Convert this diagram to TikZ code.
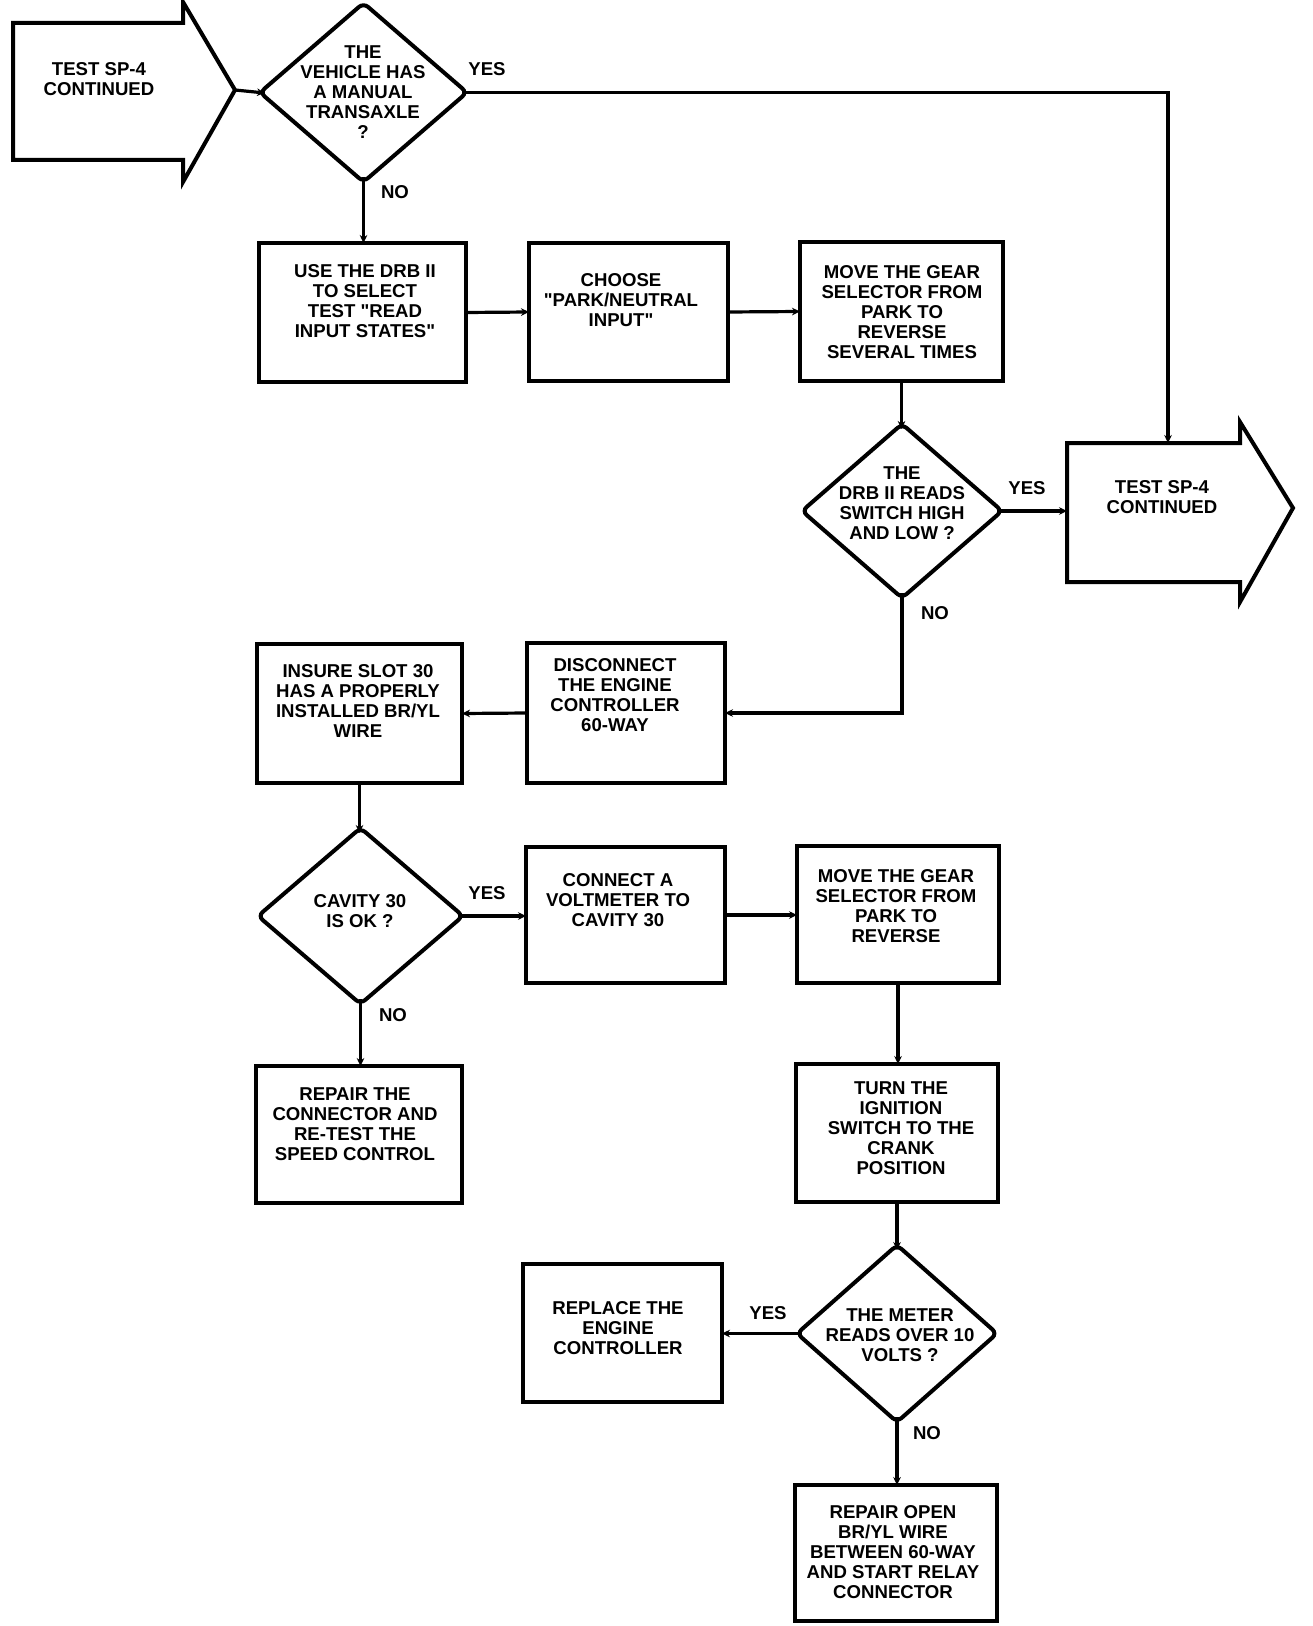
\documentclass[tikz,border=0pt]{standalone}
\usepackage{fontspec}
\setmainfont{Liberation Sans}[Ligatures=TeXOff]
\usetikzlibrary{shapes.geometric,arrows.meta,fit}
\begin{document}
\begin{tikzpicture}[x=0.5pt,y=-0.5pt,
  box/.style={draw,line width=2pt,inner sep=0pt,outer sep=0pt},
  dia/.style={draw,diamond,line width=2pt,inner sep=0pt,outer sep=0pt,rounded corners=3pt},
  txt/.style={align=center,inner sep=0pt,font=\bfseries\fontsize{9.3}{10}\selectfont},
  lbl/.style={inner sep=0pt,font=\bfseries\fontsize{9.3}{10}\selectfont},
  conn/.style={line width=1.6pt,-{Stealth[length=4pt,width=3.8pt]}},
  fromdia/.style={shorten <=-2.5pt},
  todia/.style={shorten >=-2.5pt},
  bigarrow/.style={draw,line width=2pt,line join=miter}]
\useasboundingbox (0,0) rectangle (1312,1626);
% start arrow
\draw[bigarrow] (13,23) -- (183,23) -- (183,2) -- (235,90) -- (183,182) -- (183,160) -- (13,160) -- cycle;
\coordinate (stip) at (235,90);
\node[txt] (starttxt) at (99,79) {TEST SP-4\\CONTINUED};
% end arrow
\draw[bigarrow] (1067,443) -- (1240,443) -- (1240,422) -- (1293,508) -- (1240,602) -- (1240,582) -- (1067,582) -- cycle;
\coordinate (etop) at (1168,443);
\coordinate (eleft) at (1067,511);
\node[txt] (endtxt) at (1162,497) {TEST SP-4\\CONTINUED};
% diamonds
\node[dia,minimum width=103.5pt,minimum height=89.5pt] (d1) at (363.5,92.5) {};
\node[txt] (d1t) at (363,92) {THE\\VEHICLE HAS\\A MANUAL\\TRANSAXLE\\?};
\node[dia,minimum width=100pt,minimum height=87pt] (d2) at (902,511) {};
\node[txt] (d2t) at (902,503) {THE\\DRB II READS\\SWITCH HIGH\\AND LOW ?};
\node[dia,minimum width=102.5pt,minimum height=88pt] (d3) at (360.5,916) {};
\node[txt] (d3t) at (360,911) {CAVITY 30\\IS OK ?};
\node[dia,minimum width=100pt,minimum height=88.5pt] (d4) at (897,1333.5) {};
\node[txt] (d4t) at (900,1335) {THE METER\\READS OVER 10\\VOLTS ?};
% boxes
\node[box,fit={(259,243) (466,382)}] (A) {};
\node[txt] (At) at (365,301) {USE THE DRB II\\TO SELECT\\TEST "READ\\INPUT STATES"};
\node[box,fit={(529,243) (728,381)}] (B) {};
\node[txt] (Bt) at (621,300) {CHOOSE\\"PARK/NEUTRAL\\INPUT"};
\node[box,fit={(800,242) (1003,381)}] (C) {};
\node[txt] (Ct) at (902,312) {MOVE THE GEAR\\SELECTOR FROM\\PARK TO\\REVERSE\\SEVERAL TIMES};
\node[box,fit={(527,643) (725,783)}] (D) {};
\node[txt] (Dt) at (615,695) {DISCONNECT\\THE ENGINE\\CONTROLLER\\60-WAY};
\node[box,fit={(257,644) (462,783)}] (E) {};
\node[txt] (Et) at (358,701) {INSURE SLOT 30\\HAS A PROPERLY\\INSTALLED BR/YL\\WIRE};
\node[box,fit={(526,847) (725,983)}] (F) {};
\node[txt] (Ft) at (618,900) {CONNECT A\\VOLTMETER TO\\CAVITY 30};
\node[box,fit={(797,846) (999,983)}] (G) {};
\node[txt] (Gt) at (896,906) {MOVE THE GEAR\\SELECTOR FROM\\PARK TO\\REVERSE};
\node[box,fit={(256,1066) (462,1203)}] (H) {};
\node[txt] (Ht) at (355,1124) {REPAIR THE\\CONNECTOR AND\\RE-TEST THE\\SPEED CONTROL};
\node[box,fit={(796,1064) (998,1202)}] (I) {};
\node[txt] (It) at (901,1128) {TURN THE\\IGNITION\\SWITCH TO THE\\CRANK\\POSITION};
\node[box,fit={(523,1264) (722,1402)}] (J) {};
\node[txt] (Jt) at (618,1328) {REPLACE THE\\ENGINE\\CONTROLLER};
\node[box,fit={(795,1485) (997,1621)}] (K) {};
\node[txt] (Kt) at (893,1552) {REPAIR OPEN\\BR/YL WIRE\\BETWEEN 60-WAY\\AND START RELAY\\CONNECTOR};
% connectors
\draw[conn,todia] (stip) -- (d1.west);
\draw[conn,fromdia] (d1.east) -| (etop);
\draw[conn,fromdia] (d1.south) -- (d1.south |- A.north);
\draw[conn] (A.east) -- (B.west);
\draw[conn] (B.east) -- (C.west);
\draw[conn,todia] (C.south) -- (C.south |- d2.north);
\draw[conn,fromdia] (d2.east) -- (eleft);
\draw[conn,fromdia] (d2.south) |- (D.east);
\draw[conn] (D.west) -- (E.east);
\draw[conn,todia] (E.south) -- (E.south |- d3.north);
\draw[conn,fromdia] (d3.east) -- (d3.east -| F.west);
\draw[conn] (F.east) -- (F.east -| G.west);
\draw[conn,fromdia] (d3.south) -- (d3.south |- H.north);
\draw[conn] (G.south) -- (G.south |- I.north);
\draw[conn,todia] (I.south) -- (I.south |- d4.north);
\draw[conn,fromdia] (d4.west) -- (d4.west -| J.east);
\draw[conn,fromdia] (d4.south) -- (d4.south |- K.north);
% labels
\node[lbl] (y1) at (487,69) {YES};
\node[lbl] (n1) at (395,192) {NO};
\node[lbl] (y2) at (1027,488) {YES};
\node[lbl] (n2) at (935,613) {NO};
\node[lbl] (y3) at (487,893) {YES};
\node[lbl] (n3) at (393,1015) {NO};
\node[lbl] (y4) at (768,1313) {YES};
\node[lbl] (n4) at (927,1433) {NO};
\end{tikzpicture}
\end{document}
